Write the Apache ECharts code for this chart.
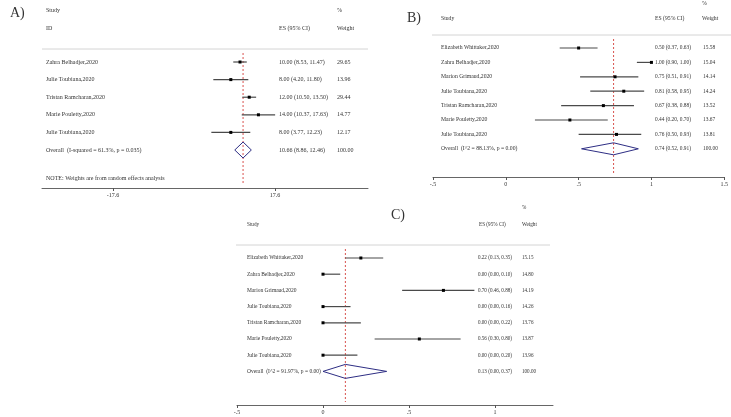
<!DOCTYPE html>
<html>
<head>
<meta charset="utf-8">
<script src="https://cdn.jsdelivr.net/npm/echarts@6/dist/echarts.min.js"></script>
<style>
  html, body { margin: 0; padding: 0; background: #fff; }
  #chart { width: 731px; height: 417px; }
</style>
</head>
<body>
<div id="chart"></div>
<script>
// panel A (last entry = overall)
const aStudies = ['Zahra Belhadjer,2020', 'Julie Toubiana,2020', 'Tristan Ramcharan,2020', 'Marie Pouletty,2020', 'Julie Toubiana,2020', 'Overall  (I-squared = 61.3%, p = 0.035)'];
const aEs = [10.00, 8.00, 12.00, 14.00, 8.00, 10.66];
const aLo = [8.53, 4.20, 10.50, 10.37, 3.77, 8.86];
const aHi = [11.47, 11.80, 13.50, 17.63, 12.23, 12.46];
const aWeight = [29.65, 13.96, 29.44, 14.77, 12.17, 100.00];
const aTicks = [-17.6, 17.6];

// panel B
const bStudies = ['Elizabeth Whittaker,2020', 'Zahra Belhadjer,2020', 'Marion Grimaud,2020', 'Julie Toubiana,2020', 'Tristan Ramcharan,2020', 'Marie Pouletty,2020', 'Julie Toubiana,2020', 'Overall  (I^2 = 88.13%, p = 0.00)'];
const bEs = [0.50, 1.00, 0.75, 0.81, 0.67, 0.44, 0.76, 0.74];
const bLo = [0.37, 0.90, 0.51, 0.58, 0.38, 0.20, 0.50, 0.52];
const bHi = [0.63, 1.00, 0.91, 0.95, 0.88, 0.70, 0.93, 0.91];
const bWeight = [15.58, 15.04, 14.14, 14.24, 13.52, 13.67, 13.81, 100.00];
const bTicks = [-0.5, 0, 0.5, 1, 1.5];

// panel C
const cStudies = ['Elizabeth Whittaker,2020', 'Zahra Belhadjer,2020', 'Marion Grimaud,2020', 'Julie Toubiana,2020', 'Tristan Ramcharan,2020', 'Marie Pouletty,2020', 'Julie Toubiana,2020', 'Overall  (I^2 = 91.97%, p = 0.00)'];
const cEs = [0.22, 0.00, 0.70, 0.00, 0.00, 0.56, 0.00, 0.13];
const cLo = [0.13, 0.00, 0.46, 0.00, 0.00, 0.30, 0.00, 0.00];
const cHi = [0.35, 0.10, 0.88, 0.16, 0.22, 0.80, 0.20, 0.37];
const cWeight = [15.15, 14.80, 14.19, 14.26, 13.76, 13.87, 13.96, 100.00];
const cTicks = [-0.5, 0, 0.5, 1];

const SERIF = '"Liberation Serif", "DejaVu Serif", serif';
const TXT = '#333';
const REF = '#d9534f';

const panels = [
  { studies: aStudies, es: aEs, lo: aLo, hi: aHi, w: aWeight, ticks: aTicks,
    grid: { left: 42, top: 49, width: 326, height: 139 }, xMin: -33.03, xMax: 37.81,
    yMin: -0.739, yMax: 7.159, nameX: 46, esX: 279, wX: 337, dh: 8,
    fs: 6, fsVal: 6, fmt: v => String(v) },
  { studies: bStudies, es: bEs, lo: bLo, hi: bHi, w: bWeight, ticks: bTicks,
    grid: { left: 433, top: 35, width: 293, height: 142 }, xMin: -0.5, xMax: 1.5,
    yMin: -0.903, yMax: 8.958, nameX: 441, esX: 655, wX: 703, dh: 6,
    fs: 5.7, fsVal: 5.4, fmt: v => String(v).replace('0.', '.') },
  { studies: cStudies, es: cEs, lo: cLo, hi: cHi, w: cWeight, ticks: cTicks,
    grid: { left: 237, top: 245, width: 316, height: 160 }, xMin: -0.5, xMax: 1.337,
    yMin: -0.802, yMax: 9.075, nameX: 247, esX: 478, wX: 522, dh: 7,
    fs: 5.5, fsVal: 5.1, fmt: v => String(v).replace('0.', '.') }
];

function txt(x, y, s, size) {
  return { type: 'text', x: x, y: y, silent: true,
    style: { text: s, fill: TXT, font: (size || 6) + 'px ' + SERIF, verticalAlign: 'middle' } };
}

function makeRender(p) {
  const last = p.studies.length - 1;
  return function (params, api) {
    const i = api.value(0);
    const es = api.value(1), lo = api.value(2), hi = api.value(3);
    const pt = api.coord([es, i]);
    const y = pt[1];
    const xl = api.coord([lo, i])[0];
    const xh = api.coord([hi, i])[0];
    const kids = [
      txt(p.nameX, y, p.studies[i], p.fs),
      txt(p.esX, y, es.toFixed(2) + ' (' + lo.toFixed(2) + ', ' + hi.toFixed(2) + ')', p.fsVal),
      txt(p.wX, y, p.w[i].toFixed(2), p.fsVal)
    ];
    if (i === last) {
      // dashed reference line at the pooled estimate
      const cs = params.coordSys;
      kids.push({ type: 'line', z2: -1,
        shape: { x1: pt[0], y1: cs.y + 4, x2: pt[0], y2: cs.y + cs.height - 3 },
        style: { stroke: REF, lineWidth: 1, lineDash: [2, 2] } });
      kids.push({ type: 'polygon',
        shape: { points: [[xl, y], [pt[0], y - p.dh], [xh, y], [pt[0], y + p.dh]] },
        style: { fill: 'rgba(255,255,255,0)', stroke: '#2e2e84', lineWidth: 1 } });
    } else {
      kids.push({ type: 'line', shape: { x1: xl, y1: y, x2: xh, y2: y },
        style: { stroke: '#4a4a4a', lineWidth: 1.2 } });
      kids.push({ type: 'rect', shape: { x: pt[0] - 1.5, y: y - 1.5, width: 3, height: 3 },
        style: { fill: '#000' } });
    }
    return { type: 'group', children: kids };
  };
}

const grids = [], xAxes = [], yAxes = [], series = [];
panels.forEach((p, k) => {
  grids.push(p.grid);
  xAxes.push({
    type: 'value', gridIndex: k, min: p.xMin, max: p.xMax, position: 'bottom',
    axisLine: { show: true, onZero: false, lineStyle: { color: '#666', width: 1 } },
    axisTick: { show: true, length: 3, customValues: p.ticks, lineStyle: { color: '#555' } },
    axisLabel: { customValues: p.ticks, formatter: p.fmt, fontSize: 6, color: TXT,
      fontFamily: SERIF, margin: 4 },
    splitLine: { show: false }
  });
  yAxes.push({ type: 'value', gridIndex: k, inverse: true, min: p.yMin, max: p.yMax, show: false });
  series.push({
    type: 'custom', xAxisIndex: k, yAxisIndex: k, clip: false, silent: true,
    renderItem: makeRender(p),
    data: p.studies.map((s, i) => [i, p.es[i], p.lo[i], p.hi[i]])
  });
});

const graphics = [
  // panel A
  txt(10, 13, 'A)', 14),
  txt(46, 10, 'Study'), txt(337, 10, '%'),
  txt(46, 28, 'ID'), txt(279, 28, 'ES (95% CI)'), txt(337, 28, 'Weight'),
  txt(46, 178, 'NOTE: Weights are from random effects analysis'),
  { type: 'line', shape: { x1: 42, y1: 49, x2: 368, y2: 49 }, style: { stroke: '#d4d4d4', lineWidth: 1 } },
  // panel B
  txt(407, 18, 'B)', 14),
  txt(702, 4, '%', 5.7), txt(441, 19, 'Study', 5.7), txt(655, 19, 'ES (95% CI)', 5.7), txt(702, 19, 'Weight', 5.7),
  { type: 'line', shape: { x1: 432, y1: 35, x2: 731, y2: 35 }, style: { stroke: '#d4d4d4', lineWidth: 1 } },
  // panel C
  txt(391, 215, 'C)', 14),
  txt(522, 208, '%', 5.2), txt(247, 225, 'Study', 5.2), txt(479, 225, 'ES (95% CI)', 5.2), txt(522, 225, 'Weight', 5.2),
  { type: 'line', shape: { x1: 236, y1: 245, x2: 550, y2: 245 }, style: { stroke: '#d4d4d4', lineWidth: 1 } }
];

const chart = echarts.init(document.getElementById('chart'));
chart.setOption({
  animation: false,
  backgroundColor: '#fff',
  grid: grids,
  xAxis: xAxes,
  yAxis: yAxes,
  graphic: graphics,
  series: series
});
</script>
</body>
</html>
